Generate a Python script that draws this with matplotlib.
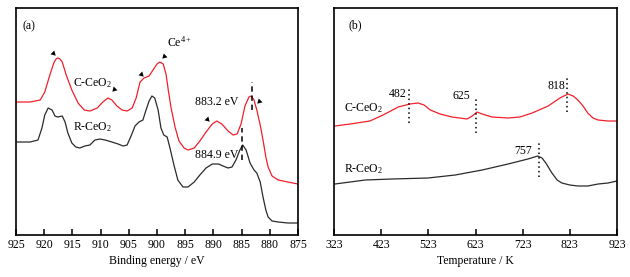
# XPS Ce 3d spectra (a) and H2-TPR profiles (b) for C-CeO2 / R-CeO2
import matplotlib
matplotlib.use("Agg")
import matplotlib.pyplot as plt

plt.rcParams['font.family'] = ['Liberation Serif', 'DejaVu Serif']
plt.rcParams['mathtext.fontset'] = 'custom'
plt.rcParams['mathtext.rm'] = 'Liberation Serif'
plt.rcParams['mathtext.it'] = 'Liberation Serif:italic'
plt.rcParams['font.size'] = 8.5

# ---- data (a.u. for intensity) ----
xps_energy_c = [924.8, 922.5, 920.7, 919.9, 919.0, 918.3, 917.9, 917.6, 917.2, 916.8, 916.1, 915.1,
                914.0, 912.9, 911.9, 910.6, 909.6, 908.7, 908.0, 907.1, 906.2, 905.3,
                904.4, 903.7, 903.0, 902.3, 901.4, 900.7, 900.0, 899.5, 898.9, 898.4,
                898.0, 897.5, 896.8, 896.1, 895.2, 894.5, 893.4, 892.4, 891.3, 890.2,
                889.4, 888.5, 887.4, 886.5, 885.8, 885.1, 884.4, 883.7, 883.3, 882.8,
                882.3, 881.7, 881.2, 880.7, 880.3, 879.6, 878.5, 876.8, 875.0]
xps_c = [133, 133, 135, 143, 160, 172, 176, 177, 176, 173, 160, 145,
         132, 125, 124, 127, 133, 137, 135, 129, 125, 124,
         127, 137, 153, 157, 159, 165, 171, 173, 171, 161,
         145, 127, 108, 94, 87, 85, 87, 94, 103, 111,
         114, 111, 104, 100, 101, 111, 129, 138, 139, 135,
         125, 110, 95, 78, 68, 59, 55, 53, 51]

xps_energy_r = [924.8, 922.5, 921.1, 920.4, 919.9, 919.3, 918.6, 918.1, 917.6, 916.8,
                916.3, 915.8, 915.1, 914.4, 913.7, 912.8, 911.9, 911.0, 910.1, 909.2,
                908.0, 906.9, 906.0, 905.3, 904.6, 903.9, 903.2, 902.5, 902.0, 901.4,
                900.9, 900.4, 899.8, 899.3, 898.8, 898.2, 897.7, 897.0, 896.3, 895.4,
                894.5, 893.4, 892.4, 891.3, 890.2, 889.1, 888.3, 887.4, 886.7, 886.0,
                885.3, 884.8, 884.2, 883.5, 882.8, 882.3, 881.7, 881.2, 880.7, 880.3,
                879.6, 878.5, 876.8, 875.0]
xps_r = [93, 93, 95, 107, 120, 127, 125, 119, 118, 119,
         113, 102, 92, 88, 87, 89, 90, 95, 96, 95,
         93, 91, 89, 90, 99, 109, 113, 115, 124, 134,
         139, 137, 125, 107, 100, 98, 87, 70, 55, 48,
         48, 53, 60, 67, 71, 71, 69, 67, 68, 75,
         85, 90, 85, 72, 65, 62, 53, 38, 25, 18,
         14, 13, 12, 12]

tpr_temp_c = [325, 357, 399, 427, 459, 484, 501, 514, 527, 548, 573, 605, 616, 626, 637,
              658, 692, 717, 743, 777, 802, 819, 830, 840, 851, 861, 872, 883, 904, 923]
tpr_c = [109, 111, 114, 120, 128, 131, 132, 130, 125, 121, 118, 116, 119, 123, 121,
         118, 117, 118, 122, 129, 137, 141, 139, 135, 129, 122, 117, 115, 114, 114]

tpr_temp_r = [325, 357, 389, 446, 522, 580, 637, 692, 734, 755, 764, 772, 785, 796, 806,
              823, 840, 861, 883, 904, 923]
tpr_r = [51, 53, 55, 56, 57, 60, 65, 71, 76, 79, 77, 72, 62, 55, 52,
         50, 49, 49, 51, 52, 54]

xps_ticks = [925, 920, 915, 910, 905, 900, 895, 890, 885, 880, 875]
tpr_ticks = [323, 423, 523, 623, 723, 823, 923]

# peak markers (triangles) on the C-CeO2 XPS curve: energy, height, rotation
mark_energy = [918.4, 907.6, 902.8, 898.8, 891.1, 881.9]
mark_height = [182, 146, 161, 179, 116, 134]
mark_angle = [-135, 135, -135, 135, -135, 135]

tpr_peaks_c = [482, 625, 818]
tpr_peak_r = 757

red = '#f0202a'
black = '#2b2b2b'

# ---- figure ----
fig = plt.figure(figsize=(6.3, 2.77), dpi=100)
ax1 = fig.add_axes([0.0254, 0.1516, 0.4476, 0.8195])
ax2 = fig.add_axes([0.5302, 0.1516, 0.4492, 0.8195])

# (a) XPS
ax1.plot(xps_energy_c, xps_c, color=red, lw=0.9)
ax1.plot(xps_energy_r, xps_r, color=black, lw=0.9)
for e, h, a in zip(mark_energy, mark_height, mark_angle):
    ax1.plot(e, h, marker=(3, 0, a), ms=4.5, color='black', mew=0)
ax1.plot([883.2, 883.2], [125, 153], color='black', lw=1.1, ls=(0, (3.5, 2.5)))
ax1.plot([884.9, 884.9], [75, 107], color='black', lw=1.1, ls=(0, (3.5, 2.5)))
ax1.text(923.8, 209, '(a)', ha='left', va='center')
ax1.text(898.2, 193, 'Ce$^{4+}$', ha='left', va='center')
ax1.text(914.9, 152, 'C-CeO$_2$', ha='left', va='center')
ax1.text(914.9, 108, 'R-CeO$_2$', ha='left', va='center')
ax1.text(893.3, 133, '883.2 eV', ha='left', va='center')
ax1.text(893.3, 80, '884.9 eV', ha='left', va='center')
ax1.set_xlim(925, 875)
ax1.set_ylim(0, 227)
ax1.set_xticks(xps_ticks)
ax1.set_xlabel('Binding energy / eV', labelpad=3)

# (b) TPR
ax2.plot(tpr_temp_c, tpr_c, color=red, lw=0.9)
ax2.plot(tpr_temp_r, tpr_r, color=black, lw=0.9)
peak_lines = {482: (112, 147), 625: (102, 137), 818: (123, 158)}
for t in tpr_peaks_c:
    lo, hi = peak_lines[t]
    ax2.plot([t, t], [lo, hi], color='black', lw=1.1, ls=(0, (1, 2)))
ax2.plot([tpr_peak_r, tpr_peak_r], [58, 92], color='black', lw=1.1, ls=(0, (1, 2)))
ax2.text(353, 210, '(b)', ha='left', va='center')
ax2.text(344, 127, 'C-CeO$_2$', ha='left', va='center')
ax2.text(344, 66, 'R-CeO$_2$', ha='left', va='center')
ax2.text(457, 141, '482', ha='center', va='center')
ax2.text(592, 139, '625', ha='center', va='center')
ax2.text(794, 149, '818', ha='center', va='center')
ax2.text(724, 84, '757', ha='center', va='center')
ax2.set_xlim(323, 923)
ax2.set_ylim(0, 227)
ax2.set_xticks(tpr_ticks)
ax2.set_xlabel('Temperature / K', labelpad=3)

for ax in (ax1, ax2):
    ax.set_yticks([])
    for s in ax.spines.values():
        s.set_linewidth(1.2)
    ax.tick_params(axis='x', direction='in', length=4, width=1.1, pad=3)

fig.savefig('out.png', dpi=100)
